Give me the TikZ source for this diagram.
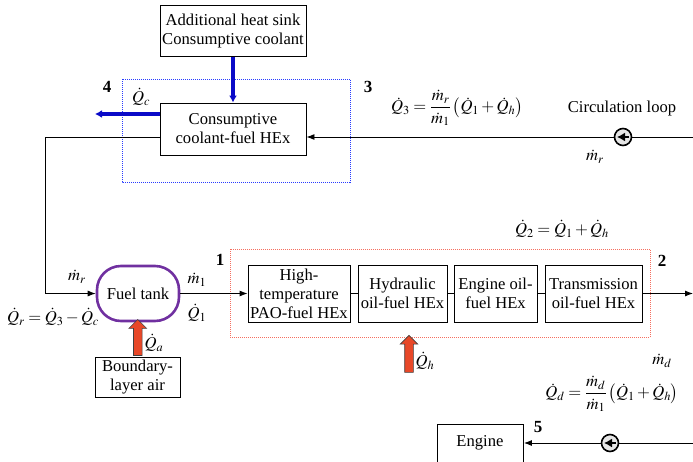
\documentclass[tikz,border=0pt]{standalone}
\usepackage{mathptmx}
\usepackage{fontspec}
\setmainfont{Liberation Serif}
\usetikzlibrary{arrows.meta,shapes.arrows,calc}

\definecolor{coolblue}{RGB}{10,10,200}
\definecolor{boxblue}{RGB}{40,60,255}
\definecolor{hotred}{RGB}{232,72,40}
\definecolor{boxred}{RGB}{245,110,95}
\definecolor{tankpurple}{RGB}{112,48,160}

\tikzset{
  hexbox/.style={draw, line width=0.9pt, align=center, inner sep=1pt},
  tankbox/.style={draw=tankpurple, line width=2.6pt, rounded corners=24pt,
    minimum width=82, minimum height=55},
  flow/.style={line width=0.9pt, -{Latex[length=8pt,width=6pt]}},
  pipe/.style={line width=0.9pt},
  coolarrow/.style={coolblue, line width=3.5pt, -{Latex[length=7pt,width=8pt]}},
  hotarrow/.style={single arrow, draw=black!75, fill=hotred, line width=0.6pt,
    shape border rotate=90, single arrow head extend=4.5pt, inner sep=4pt},
  pump/.style={circle, draw, line width=1.6pt, fill=gray!20, minimum size=17,
    inner sep=0pt},
  pumptip/.style={line width=1.4pt, -{Latex[length=8pt,width=9pt]}},
  stage/.style={font=\bfseries\fontsize{17}{19}\selectfont},
}

\begin{document}
\begin{tikzpicture}[x=1pt,y=-1pt, font=\fontsize{16.6}{19}\selectfont]
  \useasboundingbox (0,0) rectangle (693,461);

  % consumptive coolant branch
  \draw[boxblue, densely dotted, line width=1pt] (122,79) rectangle (350,182);
  \node[hexbox, minimum width=146, minimum height=51] (sink) at (233,31)
    {Additional heat sink\\Consumptive coolant};
  \node[hexbox, minimum width=146, minimum height=52] (cchex) at (233,129)
    {Consumptive\\coolant-fuel HEx};
  \draw[coolarrow] (sink) -- (cchex);
  \coordinate (qcout) at (95,114);
  \draw[coolarrow] (cchex.west |- qcout) -- (qcout);
  \node (qc) at (141,97) {$\dot{Q}_c$};
  \node[stage] (st4) at (107,87) {4};
  \node[stage] (st3) at (368,87) {3};

  % circulation loop back to the tank
  \coordinate (loopin) at (693,137);
  \draw[flow] (loopin) -- (cchex.east |- loopin);
  \node[pump] (pumpr) at (623,137) {};
  \draw[pumptip] ([xshift=6pt]pumpr.center) -- ([xshift=-6pt]pumpr.center);
  \node (loopname) at (622,109) {Circulation loop};
  \node (mr) at (595,157) {$\dot{m}_r$};
  \node (q3) at (457,108)
    {$\displaystyle \dot{Q}_3=\frac{\dot{m}_r}{\dot{m}_1}\left(\dot{Q}_1+\dot{Q}_h\right)$};

  % fuel tank
  \node[tankbox] (tank) at (138,293.5) {Fuel tank};
  \coordinate (bend) at (45,137);
  \draw[pipe] (cchex.west |- bend) -- (bend);
  \draw[flow] (bend) |- (tank.west);
  \node (mrin) at (77,277) {$\dot{m}_r$};
  \node (qr) at (53,317) {$\dot{Q}_r=\dot{Q}_3-\dot{Q}_c$};
  \node[hexbox, minimum width=85, minimum height=40] (air) at (137.5,377.5)
    {Boundary-\\layer air};
  \node[hotarrow, minimum height=36] (qaarrow)
    at ($(air.north)!0.5!(tank.south)$) {};
  \node (qa) at (154,343) {$\dot{Q}_a$};

  % heat exchanger train
  \draw[boxred, densely dotted, line width=1pt] (230,249) rectangle (650,337);
  \node[hexbox, minimum width=102, minimum height=57] (pao) at (299,293.5)
    {High-\\temperature\\PAO-fuel HEx};
  \node[hexbox, minimum width=89, minimum height=57] (hyd) at (402.5,293.5)
    {Hydraulic\\oil-fuel HEx};
  \node[hexbox, minimum width=83, minimum height=57] (eng) at (495.5,293.5)
    {Engine oil-\\fuel HEx};
  \node[hexbox, minimum width=97, minimum height=57] (trans) at (593.5,293.5)
    {Transmission\\oil-fuel HEx};
  \draw[flow] (tank.east) -- (pao.west);
  \draw[pipe] (pao) -- (hyd);
  \draw[pipe] (hyd) -- (eng);
  \draw[pipe] (eng) -- (trans);
  \coordinate (trainout) at (693,293.5);
  \draw[flow] (trans.east) -- (trainout);
  \node (m1) at (197,280) {$\dot{m}_1$};
  \node (q1) at (197,313) {$\dot{Q}_1$};
  \node[stage] (st1) at (220,260) {1};
  \node[stage] (st2) at (662,261) {2};
  \node (q2) at (562,229) {$\dot{Q}_2=\dot{Q}_1+\dot{Q}_h$};
  \node[hotarrow, minimum height=37] (qharrow) at (409,356) {};
  \node (qh) at (425,361) {$\dot{Q}_h$};

  % delivery to the engine
  \node (md) at (662,361) {$\dot{m}_d$};
  \node (qd) at (612,394)
    {$\displaystyle \dot{Q}_d=\frac{\dot{m}_d}{\dot{m}_1}\left(\dot{Q}_1+\dot{Q}_h\right)$};
  \node[hexbox, minimum width=86, minimum height=50, anchor=north west,
    text depth=0pt] (engine) at (437,424) {};
  \node (enginename) at (480,443) {Engine};
  \node[stage] (st5) at (538,427) {5};
  \coordinate (delin) at (693,443);
  \draw[flow] (delin) -- (engine.east |- delin);
  \node[pump] (pumpd) at (610,443) {};
  \draw[pumptip] ([xshift=6pt]pumpd.center) -- ([xshift=-6pt]pumpd.center);
\end{tikzpicture}
\end{document}
